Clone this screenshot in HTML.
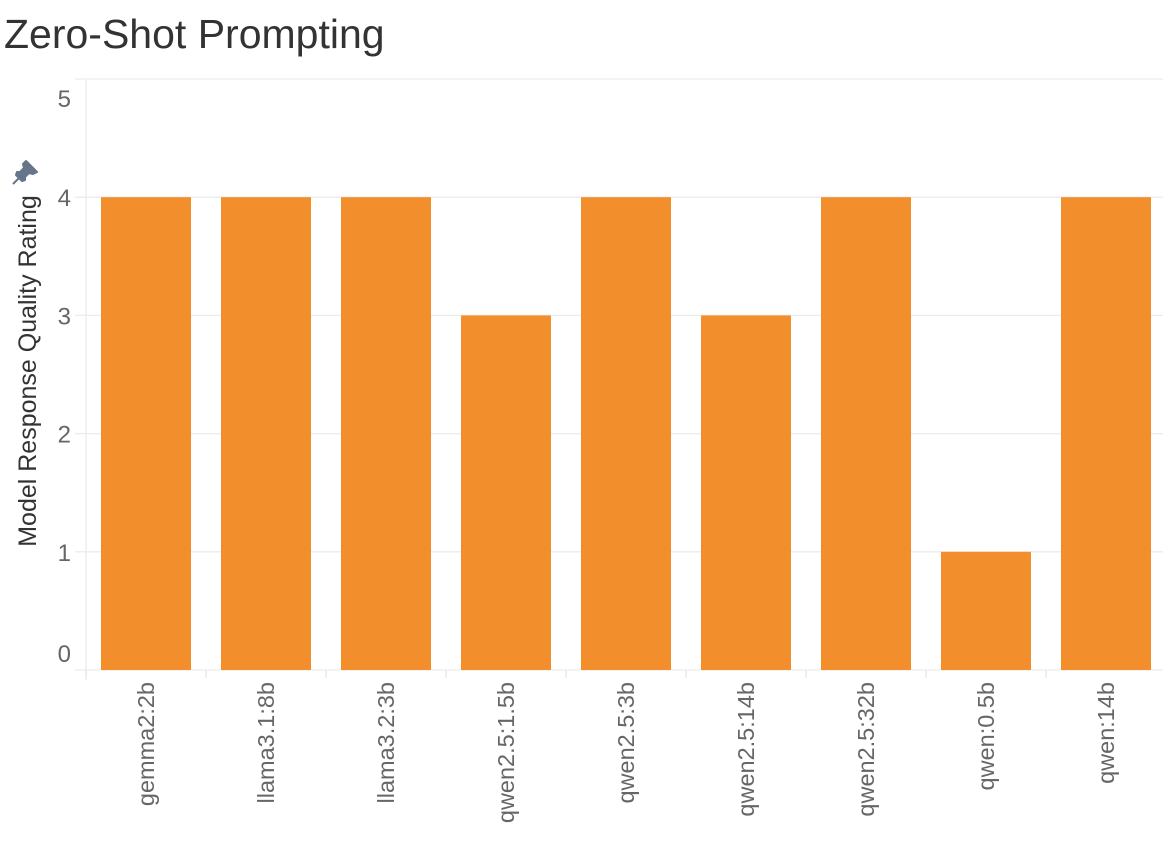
<!DOCTYPE html>
<html><head><meta charset="utf-8"><style>
body{margin:0;background:#fff;width:1163px;height:847px;overflow:hidden;font-family:"Liberation Sans",sans-serif}
#title{position:absolute;left:4px;top:11px;font-size:41px;color:#333;margin:0;font-weight:normal;line-height:46px}
</style></head><body>
<h1 id="title">Zero-Shot Prompting</h1>
<svg id="chart" width="1163" height="847" style="position:absolute;left:0;top:0"></svg>
<script>
const categories=["gemma2:2b","llama3.1:8b","llama3.2:3b","qwen2.5:1.5b","qwen2.5:3b","qwen2.5:14b","qwen2.5:32b","qwen:0.5b","qwen:14b"];
const ratings=[4,4,4,3,4,3,4,1,4];
const yTicks=[0,1,2,3,4,5];
const svg=document.getElementById('chart');const NS='http://www.w3.org/2000/svg';
const x0=86,band=120,barW=90,yBase=670,unit=118.2;
const y=v=>yBase-v*unit;
function mk(t,a,p){const e=document.createElementNS(NS,t);for(const k in a)e.setAttribute(k,a[k]);(p||svg).appendChild(e);return e;}
yTicks.forEach(t=>{
  const g=mk('line',{x1:75,x2:1163,y1:y(t),y2:y(t),stroke:'#ececec','stroke-width':1.3});
  
  
  let ly=y(t)+9; if(t===5)ly=y(t)+28; if(t===0)ly=y(t)-8;
  const l=mk('text',{x:71,y:ly,'text-anchor':'end','font-size':24,fill:'#666'});l.textContent=t;
  
  
});
const ax=mk('line',{x1:86,x2:86,y1:y(5),y2:680,stroke:'#ececec','stroke-width':1.3});


categories.forEach((c,i)=>{
  const bx=x0+i*band+15;
  const r=mk('rect',{x:bx,y:y(ratings[i]),width:barW,height:yBase-y(ratings[i]),fill:'#f28e2c'});
  
  
  const tk=mk('line',{x1:x0+i*band,x2:x0+i*band,y1:670,y2:678,stroke:'#e6e6e6','stroke-width':1.3});
  
  
  const cx=bx+barW/2+8;
  const t=mk('text',{x:cx,y:682,'text-anchor':'end','font-size':23.5,fill:'#666',transform:`rotate(-90 ${cx} 682)`});t.textContent=c;
  
  
});
const yt=mk('text',{x:36,y:371,'text-anchor':'middle','font-size':25,fill:'#333',transform:'rotate(-90 36 371)'});yt.textContent='Model Response Quality Rating';


const pin=mk('path',{d:'M26 161 L37 172 L33 174 L29 173 L25 177 L25 180 L22 181 L16 175 L17 172 L20 172 L24 168 L23 164 Z M19 178 L13 184',fill:'#66758a',stroke:'#66758a','stroke-width':2,'stroke-linejoin':'round'});


</script>
</body></html>
